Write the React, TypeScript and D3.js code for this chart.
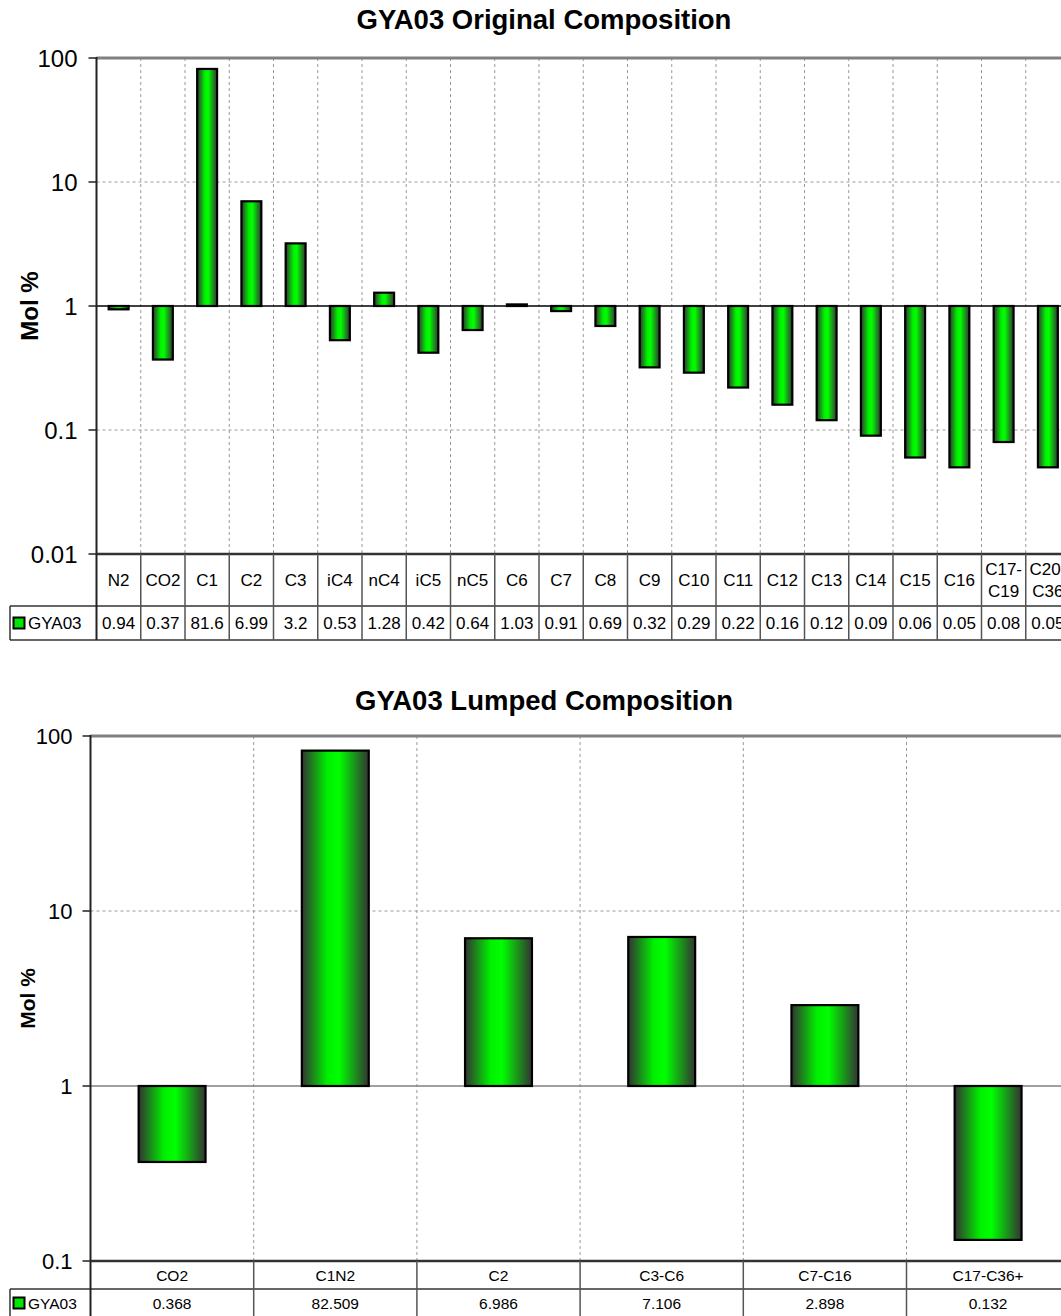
import React from "react";
import * as d3 from "d3";

const origCategories = ["N2","CO2","C1","C2","C3","iC4","nC4","iC5","nC5","C6","C7","C8","C9","C10","C11","C12","C13","C14","C15","C16","C17-C19","C20-C36"];
const origValues = [0.94,0.37,81.6,6.99,3.2,0.53,1.28,0.42,0.64,1.03,0.91,0.69,0.32,0.29,0.22,0.16,0.12,0.09,0.06,0.05,0.08,0.05];
const lumpCategories = ["CO2","C1N2","C2","C3-C6","C7-C16","C17-C36+"];
const lumpValues = [0.368,82.509,6.986,7.106,2.898,0.132];
const seriesName = "GYA03";
const origTicks = [100,10,1,0.1,0.01];
const lumpTicks = [100,10,1,0.1];

const FONT = "Arial, 'Liberation Sans', sans-serif";

function Gradient({ id }: { id: string }) {
  return (
    <linearGradient id={id} x1="0" x2="1" y1="0" y2="0">
      <stop offset="0%" stopColor="#333333" />
      <stop offset="38%" stopColor="#00f000" />
      <stop offset="55%" stopColor="#00ff00" />
      <stop offset="100%" stopColor="#333333" />
    </linearGradient>
  );
}

type ChartCfg = {
  cats: string[];
  vals: number[];
  ticks: number[];
  title: string;
  titleY: number;
  left: number;
  top: number;
  bottom: number;
  colW: number;
  barFrac: number;
  tickFont: number;
  tickGap: number;
  labelFont: number;
  labelX: number;
  tableFont: number;
  catRowH: number;
  valRowH: number;
  legendLeft: number;
  oneLine: "black" | "gray";
  fmt: (v: number) => string;
  splitLabels: boolean;
};

function Chart(c: ChartCfg) {
  const n = c.cats.length;
  const x = d3.scaleBand<string>().domain(c.cats).range([c.left, c.left + n * c.colW]).paddingInner(0).paddingOuter(0);
  const y = d3.scaleLog().domain([c.ticks[c.ticks.length - 1], c.ticks[0]]).range([c.bottom, c.top]);
  const right = 1061 + 40;
  const bw = x.bandwidth();
  const boundaries = d3.range(n + 1).map((i) => c.left + i * bw);
  const catRowBottom = c.bottom + c.catRowH;
  const valRowBottom = catRowBottom + c.valRowH;
  const midY = (y(Math.sqrt(c.ticks[0] * c.ticks[c.ticks.length - 1])) as number);
  return (
    <g>
      <text x={544} y={c.titleY} textAnchor="middle" fontFamily={FONT} fontWeight="bold" fontSize={27.5} fill="#000">{c.title}</text>
      {boundaries.slice(1).map((bx, i) => (
        <line key={"vg" + i} x1={bx} x2={bx} y1={c.top} y2={c.bottom} stroke="#9a9a9a" strokeDasharray="3,3" strokeWidth={1} />
      ))}
      {c.ticks.slice(1, -1).map((t, i) => (
        t === 1 ? (
          <line key={"hg" + i} x1={c.left} x2={right} y1={y(t)} y2={y(t)} stroke={c.oneLine === "black" ? "#000" : "#808080"} strokeWidth={c.oneLine === "black" ? 1.3 : 1.5} />
        ) : (
          <line key={"hg" + i} x1={c.left} x2={right} y1={y(t)} y2={y(t)} stroke="#9a9a9a" strokeDasharray="3,3" strokeWidth={1} />
        )
      ))}
      <line x1={c.left} x2={right} y1={c.top} y2={c.top} stroke="#808080" strokeWidth={3} />
      {c.vals.map((v, i) => {
        const cx = (x(c.cats[i]) as number) + bw / 2;
        const w = bw * c.barFrac;
        const y1 = y(1) as number;
        const y2 = y(v) as number;
        return (
          <rect key={"b" + i} x={cx - w / 2} y={Math.min(y1, y2)} width={w} height={Math.abs(y2 - y1)} fill="url(#barGrad)" stroke="#000" strokeWidth={2.2} />
        );
      })}
      <line x1={c.left} x2={c.left} y1={c.top - 1} y2={c.bottom} stroke="#222" strokeWidth={2} />
      {c.ticks.map((t, i) => (
        <g key={"t" + i}>
          <line x1={c.left - 8} x2={c.left} y1={y(t)} y2={y(t)} stroke="#222" strokeWidth={1.5} />
          <text x={c.left - c.tickGap} y={(y(t) as number) + c.tickFont * 0.36} textAnchor="end" fontFamily={FONT} fontSize={c.tickFont} fill="#000">{String(t)}</text>
        </g>
      ))}
      <text transform={`translate(${c.labelX},${midY}) rotate(-90)`} textAnchor="middle" fontFamily={FONT} fontWeight="bold" fontSize={c.labelFont} fill="#000">Mol %</text>
      <line x1={c.left} x2={right} y1={c.bottom} y2={c.bottom} stroke="#333" strokeWidth={2.5} />
      <line x1={c.legendLeft} x2={right} y1={catRowBottom} y2={catRowBottom} stroke="#333" strokeWidth={1.5} />
      <line x1={c.legendLeft} x2={right} y1={valRowBottom} y2={valRowBottom} stroke="#333" strokeWidth={1.5} />
      <line x1={c.legendLeft} x2={c.legendLeft} y1={catRowBottom} y2={valRowBottom} stroke="#333" strokeWidth={1.5} />
      {boundaries.map((bx, i) => (
        <line key={"tv" + i} x1={bx} x2={bx} y1={c.bottom} y2={valRowBottom} stroke={i === 0 ? "#222" : "#555"} strokeWidth={i === 0 ? 2 : 1.5} />
      ))}
      {c.cats.map((cat, i) => {
        const cx = (x(cat) as number) + bw / 2;
        const mid = c.bottom + c.catRowH / 2;
        const lines = c.splitLabels && cat.includes("-") ? [cat.slice(0, cat.indexOf("-") + 1), cat.slice(cat.indexOf("-") + 1)] : [cat];
        return (
          <text key={"cl" + i} x={cx} textAnchor="middle" fontFamily={FONT} fontSize={c.tableFont} fill="#000">
            {lines.map((l, j) => (
              <tspan key={j} x={cx} y={mid + c.tableFont * 0.36 + (j - (lines.length - 1) / 2) * c.tableFont * 1.3}>{l}</tspan>
            ))}
          </text>
        );
      })}
      {c.vals.map((v, i) => {
        const cx = (x(c.cats[i]) as number) + bw / 2;
        return (
          <text key={"vl" + i} x={cx} y={catRowBottom + c.valRowH / 2 + c.tableFont * 0.36} textAnchor="middle" fontFamily={FONT} fontSize={c.tableFont} fill="#000">{c.fmt(v)}</text>
        );
      })}
      <rect x={c.legendLeft + 3.5} y={catRowBottom + c.valRowH / 2 - 5.5} width={11} height={11} fill="#00e600" stroke="#000" strokeWidth={2} />
      <text x={c.legendLeft + 18} y={catRowBottom + c.valRowH / 2 + c.tableFont * 0.36} fontFamily={FONT} fontSize={c.tableFont} fill="#000">{seriesName}</text>
    </g>
  );
}

export default function App() {
  return (
    <svg width={1061} height={1316} style={{ position: "absolute", left: 0, top: 0, background: "#fff" }}>
      <defs>
        <Gradient id="barGrad" />
      </defs>
      <rect x={0} y={0} width={1061} height={1316} fill="#fff" />
      <Chart
        cats={origCategories}
        vals={origValues}
        ticks={origTicks}
        title="GYA03 Original Composition"
        titleY={29}
        left={96.5}
        top={58}
        bottom={554}
        colW={44.25}
        barFrac={0.45}
        tickFont={24}
        tickGap={19}
        labelFont={24}
        labelX={38}
        tableFont={17}
        catRowH={52}
        valRowH={34}
        legendLeft={10}
        oneLine="black"
        fmt={(v) => String(v)}
        splitLabels={true}
      />
      <Chart
        cats={lumpCategories}
        vals={lumpValues}
        ticks={lumpTicks}
        title="GYA03 Lumped Composition"
        titleY={710}
        left={90.5}
        top={736}
        bottom={1261}
        colW={163.2}
        barFrac={0.41}
        tickFont={22}
        tickGap={18}
        labelFont={21}
        labelX={35}
        tableFont={15.5}
        catRowH={28}
        valRowH={28}
        legendLeft={10}
        oneLine="gray"
        fmt={(v) => d3.format(".3f")(v)}
        splitLabels={false}
      />
    </svg>
  );
}
